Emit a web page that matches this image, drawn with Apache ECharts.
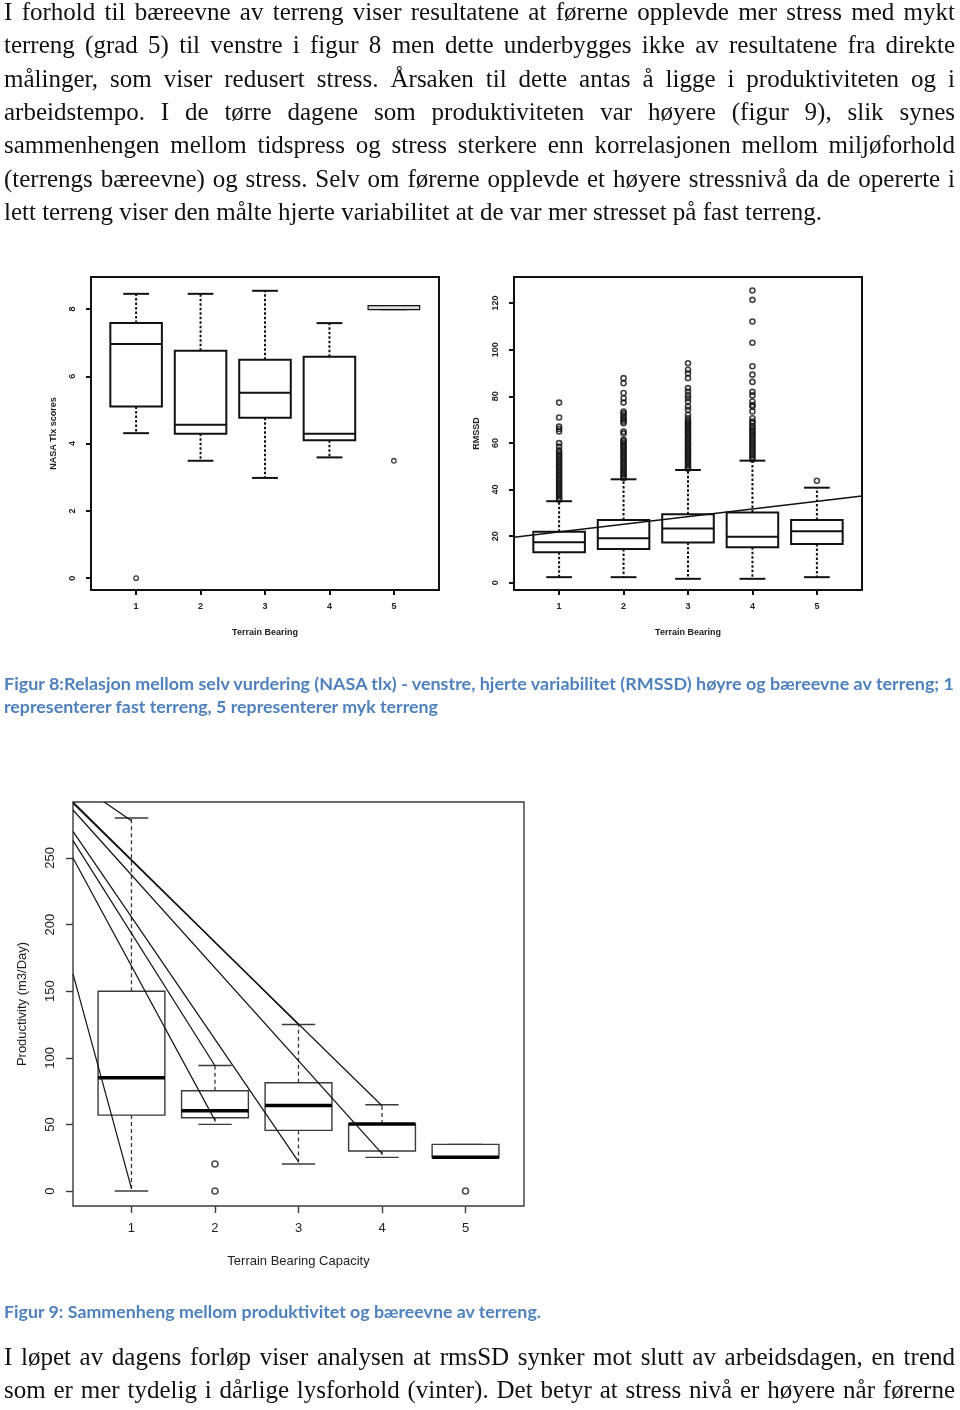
<!DOCTYPE html>
<html><head><meta charset="utf-8">
<script src="https://cdn.jsdelivr.net/npm/echarts@6/dist/echarts.min.js"></script>
<style>
html,body{margin:0;padding:0;background:#fff;}
#page{position:relative;width:960px;height:1410px;overflow:hidden;background:#fff;}
#chart{position:absolute;left:0;top:0;width:960px;height:1410px;}
.ln{position:absolute;left:4px;top:0;white-space:pre;line-height:1.2;}
.body{font-family:"Liberation Serif","Times New Roman",serif;font-size:22.7px;color:#111;}
.cap{font-family:Lato,"Open Sans",sans-serif;font-weight:700;font-size:17px;color:#4F81BD;transform-origin:0 0;}
</style></head><body>
<div id="page">
<div id="chart"></div>
<div class="ln body" data-base="20" data-w="951" data-mode="ws">I forhold til bæreevne av terreng viser resultatene at førerne opplevde mer stress med mykt</div>
<div class="ln body" data-base="53.3" data-w="951" data-mode="ws">terreng (grad 5) til venstre i figur 8 men dette underbygges ikke av resultatene fra direkte</div>
<div class="ln body" data-base="86.7" data-w="951" data-mode="ws">målinger, som viser redusert stress. Årsaken til dette antas å ligge i produktiviteten og i</div>
<div class="ln body" data-base="120" data-w="951" data-mode="ws">arbeidstempo. I de tørre dagene som produktiviteten var høyere (figur 9), slik synes</div>
<div class="ln body" data-base="153.3" data-w="951" data-mode="ws">sammenhengen mellom tidspress og stress sterkere enn korrelasjonen mellom miljøforhold</div>
<div class="ln body" data-base="186.7" data-w="951" data-mode="ws">(terrengs bæreevne) og stress. Selv om førerne opplevde et høyere stressnivå da de opererte i</div>
<div class="ln body" id="fitline" data-base="220" data-w="818" data-mode="ws">lett terreng viser den målte hjerte variabilitet at de var mer stresset på fast terreng.</div>
<div class="ln cap" data-base="690" data-w="950" data-mode="sx">Figur 8:Relasjon mellom selv vurdering (NASA tlx) - venstre, hjerte variabilitet (RMSSD) høyre og bæreevne av terreng; 1</div>
<div class="ln cap" data-base="713" data-w="434" data-mode="sx">representerer fast terreng, 5 representerer myk terreng</div>
<div class="ln cap" data-base="1318" data-w="537" data-mode="sx">Figur 9: Sammenheng mellom produktivitet og bæreevne av terreng.</div>
<div class="ln body" data-base="1365" data-w="951" data-mode="ws">I løpet av dagens forløp viser analysen at rmsSD synker mot slutt av arbeidsdagen, en trend</div>
<div class="ln body" data-base="1398.4" data-w="951" data-mode="ws">som er mer tydelig i dårlige lysforhold (vinter). Det betyr at stress nivå er høyere når førerne</div>
</div>
<script>
// ---------- Figure 8 left: NASA TLX ----------
const terrainX = [1, 2, 3, 4, 5];
const tickX = [1, 2, 3, 4, 5];
const tlxTicks = [0, 2, 4, 6, 8];
const tlxMin = [4.31, 3.49, 2.98, 3.59, 7.98];
const tlxQ1  = [5.10, 4.29, 4.77, 4.10, 7.98];
const tlxMed = [6.96, 4.56, 5.51, 4.29, 8.04];
const tlxQ3  = [7.58, 6.76, 6.49, 6.58, 8.10];
const tlxMax = [8.45, 8.45, 8.54, 7.58, 8.10];
const tlxOutX = [1, 5];
const tlxOutY = [0.0, 3.49];

// ---------- Figure 8 right: RMSSD ----------
const rmTicks = [0, 20, 40, 60, 80, 100, 120];
const rmMin = [2.4, 2.4, 1.7, 1.7, 2.4];
const rmQ1  = [13.1, 14.5, 17.3, 15.2, 16.6];
const rmMed = [17.4, 19.1, 23.3, 19.8, 22.1];
const rmQ3  = [21.9, 26.9, 29.4, 30.1, 26.9];
const rmMax = [35.0, 44.4, 48.4, 52.4, 40.8];
const rmOut1 = [35.6, 36.4, 37.3, 38.1, 39.0, 39.8, 40.7, 41.5, 42.4, 43.2, 44.1, 44.9, 45.8, 46.6, 47.5, 48.3, 49.2, 50.0, 50.9, 51.7, 52.6, 53.4, 54.3, 55.1, 56.0, 56.8, 58.4, 59.9, 64.9, 66.0, 67.0, 70.9, 77.3];
const rmOut2 = [44.9, 45.7, 46.5, 47.2, 48.1, 48.8, 49.6, 50.5, 51.2, 52.0, 52.9, 53.6, 54.4, 55.3, 56.0, 56.8, 57.7, 58.4, 59.2, 60.1, 60.8, 61.3, 64.1, 64.9, 68.5, 69.2, 70.1, 70.9, 71.8, 72.7, 73.5, 77.3, 79.2, 81.4, 85.6, 87.8];
const rmOut3 = [48.9, 49.7, 50.4, 51.3, 52.1, 52.8, 53.7, 54.5, 55.2, 56.1, 56.9, 57.6, 58.5, 59.3, 60.0, 60.9, 61.7, 62.4, 63.3, 64.1, 64.8, 65.7, 66.5, 67.2, 68.1, 68.9, 69.6, 70.6, 72.0, 74.2, 75.6, 77.8, 79.2, 80.4, 82.1, 83.5, 87.8, 89.9, 91.4, 94.2];
const rmOut4 = [52.9, 53.7, 54.6, 55.4, 56.3, 57.1, 58.0, 58.8, 59.7, 60.5, 61.4, 62.2, 63.1, 63.9, 64.8, 65.6, 66.5, 67.3, 68.5, 69.2, 70.6, 73.5, 75.6, 76.3, 77.8, 80.4, 81.9, 86.2, 89.3, 92.9, 103.0, 112.1, 121.4, 125.4];
const rmOut5 = [43.8];
const rmTrendX = [0.3, 5.7];
const rmTrendY = [19.5, 37.2];

// ---------- Figure 9: Productivity ----------
const prodTicks = [0, 50, 100, 150, 200, 250];
const prodMin = [0, 50, 20.25, 25.25, 25.25];
const prodQ1  = [57, 55, 45.5, 30, 25.25];
const prodMed = [85, 60.25, 64.25, 50.25, 25.25];
const prodQ3  = [150, 75.25, 81.25, 50.25, 35];
const prodMax = [280, 94.25, 125, 64.75, 35];
const prodOutX = [2, 2, 5];
const prodOutY = [20.25, 0, 0];
const diagX0 = [0.3, 0.3, 0.3, 0.3, 0.3, 0.3, 0.3, 0.673];
const diagY0 = [163, 250, 263, 270, 286, 292, 291, 292];
const diagX1 = [1, 2, 2, 3, 4, 3, 4, 1];
const diagY1 = [2, 53, 94, 22, 28, 125, 64, 278];

// ---------- text layout ----------
(function () {
  const fit = document.getElementById('fitline');
  const w0 = fit.getBoundingClientRect().width;
  const size = 22.7 * (+fit.dataset.w) / w0;
  document.querySelectorAll('.body').forEach(el => { el.style.fontSize = size + 'px'; });
})();
document.querySelectorAll('.ln').forEach(el => {
  const probe = document.createElement('span');
  probe.style.cssText = 'display:inline-block;width:0;height:0;vertical-align:baseline;';
  el.appendChild(probe);
  const w = el.getBoundingClientRect().width;
  const target = +el.dataset.w;
  if (el.dataset.mode === 'ws') {
    const spaces = (el.textContent.match(/ /g) || []).length;
    el.style.wordSpacing = ((target - w) / spaces) + 'px';
  } else {
    el.style.transform = 'scaleX(' + (target / w) + ')';
  }
  el.style.top = (+el.dataset.base - probe.offsetTop) + 'px';
});

// ---------- chart ----------
const chart = echarts.init(document.getElementById('chart'), null, {renderer: 'canvas'});

function boxData(mn, q1, md, q3, mx) {
  return terrainX.map((x, i) => [x, mn[i], q1[i], md[i], q3[i], mx[i]]);
}
function boxRender(st) {
  return function (params, api) {
    const x = api.value(0);
    const p = v => api.coord([x, v]);
    const half = api.size([0.8, 0])[0] / 2;
    const cap = half * 0.5;
    const cx = p(api.value(3))[0];
    const yMn = p(api.value(1))[1], yQ1 = p(api.value(2))[1], yMd = p(api.value(3))[1],
          yQ3 = p(api.value(4))[1], yMx = p(api.value(5))[1];
    const thin = (yQ1 - yQ3) < 6;
    const lw = thin ? 1.2 : st.lw;
    const ls = {stroke: st.color, lineWidth: lw, fill: thin ? '#ddd' : 'none'};
    const ds = {stroke: st.color, lineWidth: st.wlw, lineDash: st.dash, fill: 'none'};
    const children = [
      {type: 'line', shape: {x1: cx, y1: yQ3, x2: cx, y2: yMx}, style: ds},
      {type: 'line', shape: {x1: cx, y1: yQ1, x2: cx, y2: yMn}, style: ds},
      {type: 'line', shape: {x1: cx - cap, y1: yMx, x2: cx + cap, y2: yMx}, style: {stroke: st.color, lineWidth: lw}},
      {type: 'line', shape: {x1: cx - cap, y1: yMn, x2: cx + cap, y2: yMn}, style: {stroke: st.color, lineWidth: lw}},
      {type: 'rect', shape: {x: cx - half, y: yQ3, width: 2 * half, height: yQ1 - yQ3}, style: ls}
    ];
    if (!thin) {
      children.push({type: 'line', shape: {x1: cx - half, y1: yMd, x2: cx + half, y2: yMd}, style: {stroke: st.medColor, lineWidth: st.mlw}});
    }
    return {type: 'group', children: children};
  };
}

const stOld = {color: '#111', lw: 2, wlw: 2, dash: [2.5, 2], medColor: '#111', mlw: 2};
const stNew = {color: '#3a3a3a', lw: 1.4, wlw: 1.3, dash: [4, 3], medColor: '#000', mlw: 3.5};

function xAxisCfg(gi, st, fs, margin, name, nameGap, nameFs, bold) {
  return {
    type: 'value', gridIndex: gi, min: 0.3, max: 5.7,
    axisLine: {show: false, onZero: false}, splitLine: {show: false},
    axisTick: {show: true, customValues: tickX, length: st === stOld ? 5 : 7, lineStyle: {color: st.color, width: st.lw}},
    axisLabel: {customValues: tickX, margin: margin, fontSize: fs, color: '#222', fontFamily: 'Liberation Sans, Arial', fontWeight: bold ? 'bold' : 'normal'},
    name: name, nameLocation: 'middle', nameGap: nameGap,
    nameTextStyle: {fontSize: nameFs, color: '#222', fontFamily: 'Liberation Sans, Arial', fontWeight: bold ? 'bold' : 'normal'}
  };
}
function yAxisCfg(gi, st, min, max, ticks, fs, margin, name, nameGap, nameFs, bold) {
  return {
    type: 'value', gridIndex: gi, min: min, max: max,
    axisLine: {show: false, onZero: false}, splitLine: {show: false},
    axisTick: {show: true, customValues: ticks, length: st === stOld ? 5 : 7, lineStyle: {color: st.color, width: st.lw}},
    axisLabel: {customValues: ticks, rotate: 90, margin: margin, fontSize: fs, color: '#222', fontFamily: 'Liberation Sans, Arial', fontWeight: bold ? 'bold' : 'normal'},
    name: name, nameLocation: 'middle', nameGap: nameGap,
    nameTextStyle: {fontSize: nameFs, color: '#222', fontFamily: 'Liberation Sans, Arial', fontWeight: bold ? 'bold' : 'normal'}
  };
}

function outlierSeries(gi, pts, size, bw, color) {
  return {type: 'scatter', xAxisIndex: gi, yAxisIndex: gi, data: pts, symbol: 'circle', symbolSize: size,
    itemStyle: {color: 'rgba(0,0,0,0)', borderColor: color, borderWidth: bw}, z: 5, silent: true};
}
function segSeries(gi, x0, y0, x1, y1, color, width) {
  return {type: 'line', xAxisIndex: gi, yAxisIndex: gi, data: [[x0, y0], [x1, y1]], symbol: 'none',
    lineStyle: {color: color, width: width}, clip: true, z: 4, silent: true};
}

const rmOutPts = [].concat(
  rmOut1.map(v => [1, v]), rmOut2.map(v => [2, v]), rmOut3.map(v => [3, v]),
  rmOut4.map(v => [4, v]), rmOut5.map(v => [5, v]));

const series = [
  {type: 'custom', xAxisIndex: 0, yAxisIndex: 0, renderItem: boxRender(stOld),
   data: boxData(tlxMin, tlxQ1, tlxMed, tlxQ3, tlxMax), encode: {x: 0, y: [1, 2, 3, 4, 5]}, z: 3, silent: true},
  outlierSeries(0, tlxOutX.map((x, i) => [x, tlxOutY[i]]), 4.5, 1.3, '#111'),
  {type: 'custom', xAxisIndex: 1, yAxisIndex: 1, renderItem: boxRender(stOld),
   data: boxData(rmMin, rmQ1, rmMed, rmQ3, rmMax), encode: {x: 0, y: [1, 2, 3, 4, 5]}, z: 3, silent: true},
  outlierSeries(1, rmOutPts, 5, 1.6, '#111'),
  segSeries(1, rmTrendX[0], rmTrendY[0], rmTrendX[1], rmTrendY[1], '#111', 1.6),
  {type: 'custom', xAxisIndex: 2, yAxisIndex: 2, renderItem: boxRender(stNew),
   data: boxData(prodMin, prodQ1, prodMed, prodQ3, prodMax), encode: {x: 0, y: [1, 2, 3, 4, 5]}, z: 3, silent: true},
  outlierSeries(2, prodOutX.map((x, i) => [x, prodOutY[i]]), 6, 1.6, '#222')
];
diagX0.forEach((x0, i) => series.push(segSeries(2, x0, diagY0[i], diagX1[i], diagY1[i], '#111', 1.2)));

chart.setOption({
  animation: false,
  backgroundColor: 'transparent',
  grid: [
    {left: 91, top: 277, width: 348, height: 313, show: true, borderColor: '#111', borderWidth: 2, backgroundColor: 'transparent'},
    {left: 514, top: 277, width: 348, height: 313, show: true, borderColor: '#111', borderWidth: 2, backgroundColor: 'transparent'},
    {left: 73, top: 802, width: 451, height: 404, show: true, borderColor: '#3a3a3a', borderWidth: 1.4, backgroundColor: 'transparent'}
  ],
  xAxis: [
    xAxisCfg(0, stOld, 9, 12, 'Terrain Bearing', 38, 9, true),
    xAxisCfg(1, stOld, 9, 12, 'Terrain Bearing', 38, 9, true),
    xAxisCfg(2, stNew, 13, 16, 'Terrain Bearing Capacity', 49, 13, false)
  ],
  yAxis: [
    yAxisCfg(0, stOld, -0.35, 8.95, tlxTicks, 9, 14, 'NASA Tlx scores', 33, 9, true),
    yAxisCfg(1, stOld, -3.1, 131.2, rmTicks, 9, 14, 'RMSSD', 33, 9, true),
    yAxisCfg(2, stNew, -11.25, 292, prodTicks, 13, 16, 'Productivity (m3/Day)', 44, 13, false)
  ],
  series: series
});
</script>
</body></html>
